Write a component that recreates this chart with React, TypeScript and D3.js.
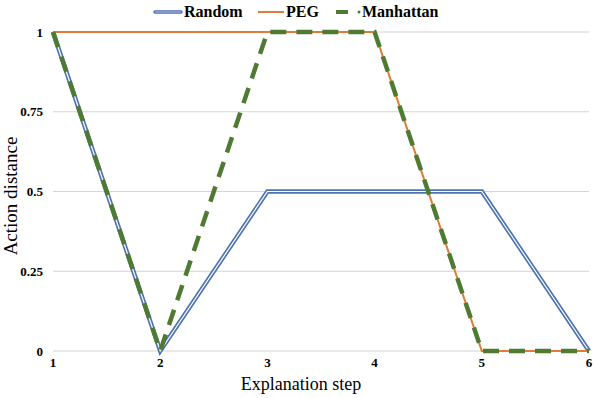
import React from "react";
import * as d3 from "d3";

const steps = [1, 2, 3, 4, 5, 6];
const randomVals = [1, 0, 0.5, 0.5, 0.5, 0];
const pegVals = [1, 1, 1, 1, 0, 0];
const manhattanVals = [1, 0, 1, 1, 0, 0];
const yTicks = [0, 0.25, 0.5, 0.75, 1];

const W = 596;
const H = 398;
const font = "'Liberation Serif', 'Times New Roman', serif";

export default function App() {
  const x = d3.scaleLinear().domain([1, 6]).range([53, 589]);
  const y = d3.scaleLinear().domain([0, 1]).range([351, 32]);
  const line = d3
    .line<number>()
    .x((_, i) => x(steps[i]))
    .y((d) => y(d));

  return (
    <svg width={W} height={H} style={{ position: "absolute", left: 0, top: 0, background: "#fff" }}>
      {/* grid */}
      {yTicks.map((t) => (
        <line key={t} x1={x(1)} x2={x(6)} y1={y(t)} y2={y(t)} stroke="#d4d4d4" strokeWidth={1} />
      ))}
      {yTicks.map((t) => (
        <text key={"yl" + t} x={43} y={y(t) + 4.5} textAnchor="end" fontFamily={font} fontWeight="bold" fontSize={13}>
          {t}
        </text>
      ))}
      {steps.map((s) => (
        <text key={"xl" + s} x={x(s)} y={367} textAnchor="middle" fontFamily={font} fontWeight="bold" fontSize={13}>
          {s}
        </text>
      ))}
      <text x={301} y={390} textAnchor="middle" fontFamily={font} fontSize={18}>
        Explanation step
      </text>
      <text transform={`translate(17,196) rotate(-90)`} textAnchor="middle" fontFamily={font} fontSize={19}>
        Action distance
      </text>

      {/* Random: compound line */}
      <path d={line(randomVals) || ""} fill="none" stroke="#4f72b0" strokeWidth={4.5} strokeLinejoin="miter" />
      <path d={line(randomVals) || ""} fill="none" stroke="#fff" strokeWidth={1.2} strokeLinejoin="miter" />
      {/* PEG */}
      <path d={line(pegVals) || ""} fill="none" stroke="#e07b39" strokeWidth={2} />
      {/* Manhattan */}
      <path
        d={line(manhattanVals) || ""}
        fill="none"
        stroke="#4e7a32"
        strokeWidth={4.5}
        strokeDasharray="16 10"
      />

      {/* legend */}
      <line x1={155} x2={181} y1={12} y2={12} stroke="#4f72b0" strokeWidth={3.5} strokeLinecap="round" />
      <line x1={155} x2={181} y1={12} y2={12} stroke="#c9d4ea" strokeWidth={0.8} />
      <text x={184} y={17} fontFamily={font} fontWeight="bold" fontSize={16}>
        Random
      </text>
      <line x1={258} x2={284} y1={12} y2={12} stroke="#e07b39" strokeWidth={2} />
      <text x={286} y={17} fontFamily={font} fontWeight="bold" fontSize={16}>
        PEG
      </text>
      <line x1={336} x2={348} y1={12} y2={12} stroke="#4e7a32" strokeWidth={4} />
      <circle cx={359} cy={12} r={1.5} fill="#4e7a32" />
      <text x={362} y={17} fontFamily={font} fontWeight="bold" fontSize={16}>
        Manhattan
      </text>
    </svg>
  );
}
